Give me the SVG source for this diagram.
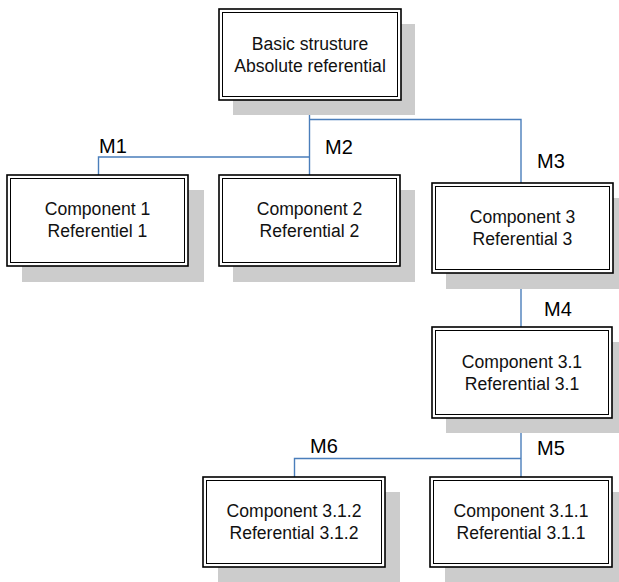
<svg xmlns="http://www.w3.org/2000/svg" width="619" height="582" viewBox="0 0 619 582">
  <style>
    .shadow { fill: #cccccc; }
    .outer { fill: #ffffff; stroke: #000000; stroke-width: 1.6; }
    .inner { fill: none; stroke: #000000; stroke-width: 1; }
    .txt { font-family: "Liberation Sans", Arial, sans-serif; font-size: 17.6px; fill: #111111; text-anchor: middle; }
    .lbl { font-family: "Liberation Sans", Arial, sans-serif; font-size: 20px; fill: #000000; }
    .conn { fill: none; stroke: #4a7ebb; stroke-width: 1.4; }
  </style>
  <rect width="619" height="582" fill="#ffffff"/>

  <!-- connectors -->
  <g id="connectors">
    <path class="conn" d="M309.5,100 V175"/>
    <path class="conn" d="M98.5,175 V157 H309.5"/>
    <path class="conn" d="M309.5,119.5 H521 V183"/>
    <path class="conn" d="M521,273 V327"/>
    <path class="conn" d="M521,418 V477"/>
    <path class="conn" d="M294.5,477 V458.5 H521"/>
    <text class="lbl" x="99" y="153">M1</text>
    <text class="lbl" x="325" y="154">M2</text>
    <text class="lbl" x="537" y="168">M3</text>
    <text class="lbl" x="544" y="316">M4</text>
    <text class="lbl" x="537" y="455">M5</text>
    <text class="lbl" x="310" y="453">M6</text>
  </g>

  <g id="basic">
    <rect class="shadow" x="233" y="24" width="182" height="91"/>
    <rect class="outer" x="219" y="9" width="182" height="91"/>
    <rect class="inner" x="222.5" y="12.5" width="175" height="84"/>
    <text class="txt" x="310" y="50">Basic strusture</text>
    <text class="txt" x="310" y="72">Absolute referential</text>
  </g>

  <g id="comp1">
    <rect class="shadow" x="22" y="190" width="182" height="92"/>
    <rect class="outer" x="7" y="175" width="181" height="91"/>
    <rect class="inner" x="10.5" y="178.5" width="174" height="84"/>
    <text class="txt" x="97.5" y="215">Component 1</text>
    <text class="txt" x="97.5" y="237">Referentiel 1</text>
  </g>

  <g id="comp2">
    <rect class="shadow" x="233" y="190" width="182" height="92"/>
    <rect class="outer" x="219" y="175" width="181" height="91"/>
    <rect class="inner" x="222.5" y="178.5" width="174" height="84"/>
    <text class="txt" x="309.5" y="215">Component 2</text>
    <text class="txt" x="309.5" y="237">Referential 2</text>
  </g>

  <g id="comp3">
    <rect class="shadow" x="446" y="198" width="181" height="91"/>
    <rect class="outer" x="432" y="183" width="181" height="90"/>
    <rect class="inner" x="435.5" y="186.5" width="174" height="83"/>
    <text class="txt" x="522.5" y="223">Component 3</text>
    <text class="txt" x="522.5" y="245">Referential 3</text>
  </g>

  <g id="comp31">
    <rect class="shadow" x="446" y="342" width="180" height="91"/>
    <rect class="outer" x="432" y="327" width="180" height="91"/>
    <rect class="inner" x="435.5" y="330.5" width="173" height="84"/>
    <text class="txt" x="522" y="368">Component 3.1</text>
    <text class="txt" x="522" y="390">Referential 3.1</text>
  </g>

  <g id="comp312">
    <rect class="shadow" x="218" y="492" width="182" height="90"/>
    <rect class="outer" x="203" y="477" width="182" height="90"/>
    <rect class="inner" x="206.5" y="480.5" width="175" height="83"/>
    <text class="txt" x="294" y="517">Component 3.1.2</text>
    <text class="txt" x="294" y="539">Referential 3.1.2</text>
  </g>

  <g id="comp311">
    <rect class="shadow" x="445" y="492" width="182" height="90"/>
    <rect class="outer" x="430" y="477" width="182" height="90"/>
    <rect class="inner" x="433.5" y="480.5" width="175" height="83"/>
    <text class="txt" x="521" y="517">Component 3.1.1</text>
    <text class="txt" x="521" y="539">Referential 3.1.1</text>
  </g>
</svg>
